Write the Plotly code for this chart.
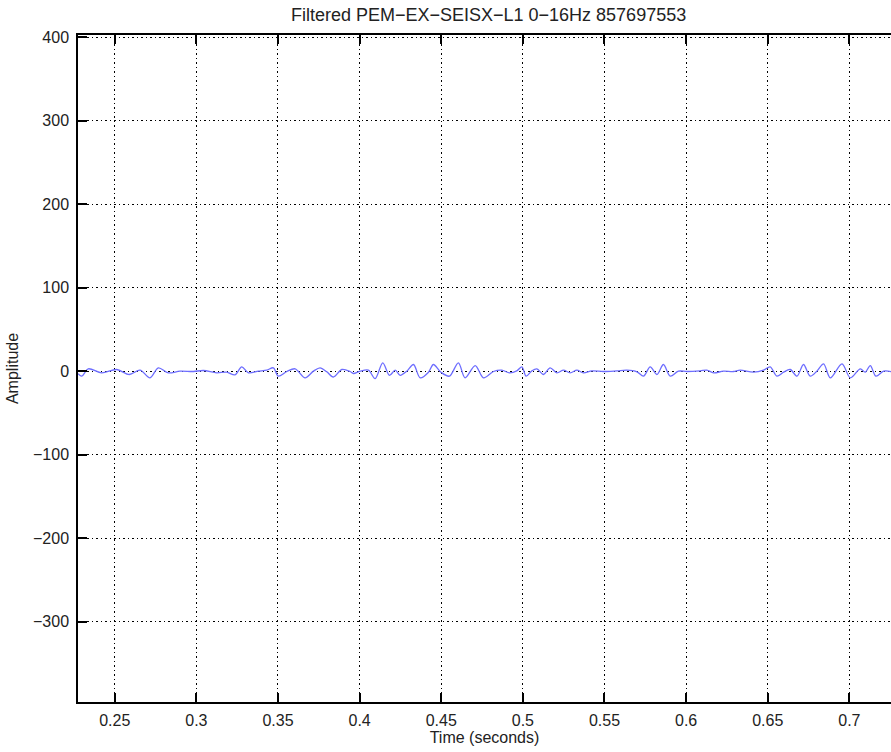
import plotly.graph_objects as go

# Time of local extrema (s)
time_s = [
    0.2275, 0.2298, 0.2338, 0.2420, 0.2512, 0.2589, 0.2655, 0.2716, 0.2767, 0.2828,
    0.2900, 0.2982, 0.3043, 0.3125, 0.3186, 0.3237, 0.3278, 0.3319, 0.3380, 0.3431,
    0.3472, 0.3502, 0.3554, 0.3605, 0.3666, 0.3717, 0.3758, 0.3799, 0.3839, 0.3891,
    0.3942, 0.3962, 0.4003, 0.4054, 0.4095, 0.4142, 0.4183, 0.4218, 0.4248, 0.4289,
    0.4330, 0.4371, 0.4422, 0.4452, 0.4498, 0.4550, 0.4605, 0.4646, 0.4708, 0.4759,
    0.4820, 0.4871, 0.4918, 0.4963, 0.4994, 0.5020, 0.5055, 0.5086, 0.5126, 0.5167,
    0.5208, 0.5249, 0.5290, 0.5331, 0.5371, 0.5423, 0.5494, 0.5576, 0.5637, 0.5699,
    0.5739, 0.5780, 0.5821, 0.5861, 0.5903, 0.5953, 0.6005, 0.6086, 0.6127, 0.6168,
    0.6229, 0.6290, 0.6331, 0.6413, 0.6474, 0.6515, 0.6556, 0.6597, 0.6638, 0.6679,
    0.6719, 0.6760, 0.6801, 0.6842, 0.6883, 0.6955, 0.7006, 0.7067, 0.7097, 0.7128,
    0.7163, 0.7210, 0.7261,
]
amplitude = [
    -3.0, -6.0, 2.8, -2.0, 2.0, -4.0, 1.2, -8.0, 4.0, -2.0,
    0.0, -0.4, 0.8, -2.0, -1.2, -4.4, 5.2, -2.0, 0.0, 1.2,
    4.0, -6.0, -0.4, 2.8, -8.0, 0.0, 4.0, -0.8, -7.0, 2.0,
    -0.4, -2.8, 0.0, 1.2, -9.0, 10.0, -5.0, 1.2, -5.0, 0.0,
    8.0, -8.0, -1.2, 8.0, -1.2, -6.0, 10.0, -8.0, 6.7, -8.0,
    -0.4, 1.2, -2.0, 0.4, 5.2, -6.0, 0.4, 2.8, -4.0, 4.0,
    -2.0, 1.2, -2.0, 1.2, -2.0, 0.4, -0.4, 0.4, 1.2, -0.8,
    -6.0, 5.2, -4.0, 8.0, -6.0, 0.0, -0.4, 0.4, 1.2, -2.0,
    0.0, -0.4, 1.2, -1.2, 1.2, 5.2, -6.0, -1.2, 2.0, -6.0,
    8.0, -6.0, 0.0, 8.7, -8.0, 8.7, -8.0, 2.8, -1.2, 6.7,
    -6.0, 0.0, -0.8,
]

x_ticks = [0.25, 0.3, 0.35, 0.4, 0.45, 0.5, 0.55, 0.6, 0.65, 0.7]
x_tick_labels = ["0.25", "0.3", "0.35", "0.4", "0.45", "0.5", "0.55", "0.6", "0.65", "0.7"]
y_ticks = [-300, -200, -100, 0, 100, 200, 300, 400]
y_tick_labels = ["\u2212300", "\u2212200", "\u2212100", "0", "100", "200", "300", "400"]

title_text = "Filtered PEM\u2212EX\u2212SEISX\u2212L1 0\u221216Hz 857697553"

FONT = "Liberation Sans, Arial, Helvetica, sans-serif"

fig = go.Figure()
fig.add_trace(go.Scatter(
    x=time_s, y=amplitude, mode="lines",
    line=dict(color="rgb(110,110,255)", width=1.3, shape="spline", smoothing=0.9),
    showlegend=False, hoverinfo="skip",
))

axis_common = dict(
    showline=True, linecolor="black", linewidth=1.5,
    ticks="inside", ticklen=9, tickwidth=1.5, tickcolor="black",
    showgrid=True, gridcolor="black", gridwidth=1.3, griddash="1.5px,3px",
    zeroline=False,
    tickfont=dict(family=FONT, size=16, color="#222"),
)

fig.update_layout(
    width=891, height=752,
    margin=dict(l=78, r=0, t=35, b=50),
    paper_bgcolor="white", plot_bgcolor="white",
    font=dict(family=FONT, size=16, color="#222"),
    title=dict(text=title_text, x=0.505, xref="paper", xanchor="center",
               y=0.981, yref="container", yanchor="middle",
               font=dict(family=FONT, size=18, color="#222")),
    xaxis=dict(
        range=[0.2275, 0.7255], tickvals=x_ticks, ticktext=x_tick_labels,
        mirror="ticks", ticklabelstandoff=3,
        title=dict(text="Time (seconds)", font=dict(family=FONT, size=16, color="#222"), standoff=1),
        **axis_common,
    ),
    yaxis=dict(
        range=[-396, 402.4], tickvals=y_ticks, ticktext=y_tick_labels,
        mirror=False, ticklabelstandoff=4,
        title=dict(text="Amplitude", font=dict(family=FONT, size=16, color="#222"), standoff=10),
        **axis_common,
    ),
)

fig.write_html("out.html")
